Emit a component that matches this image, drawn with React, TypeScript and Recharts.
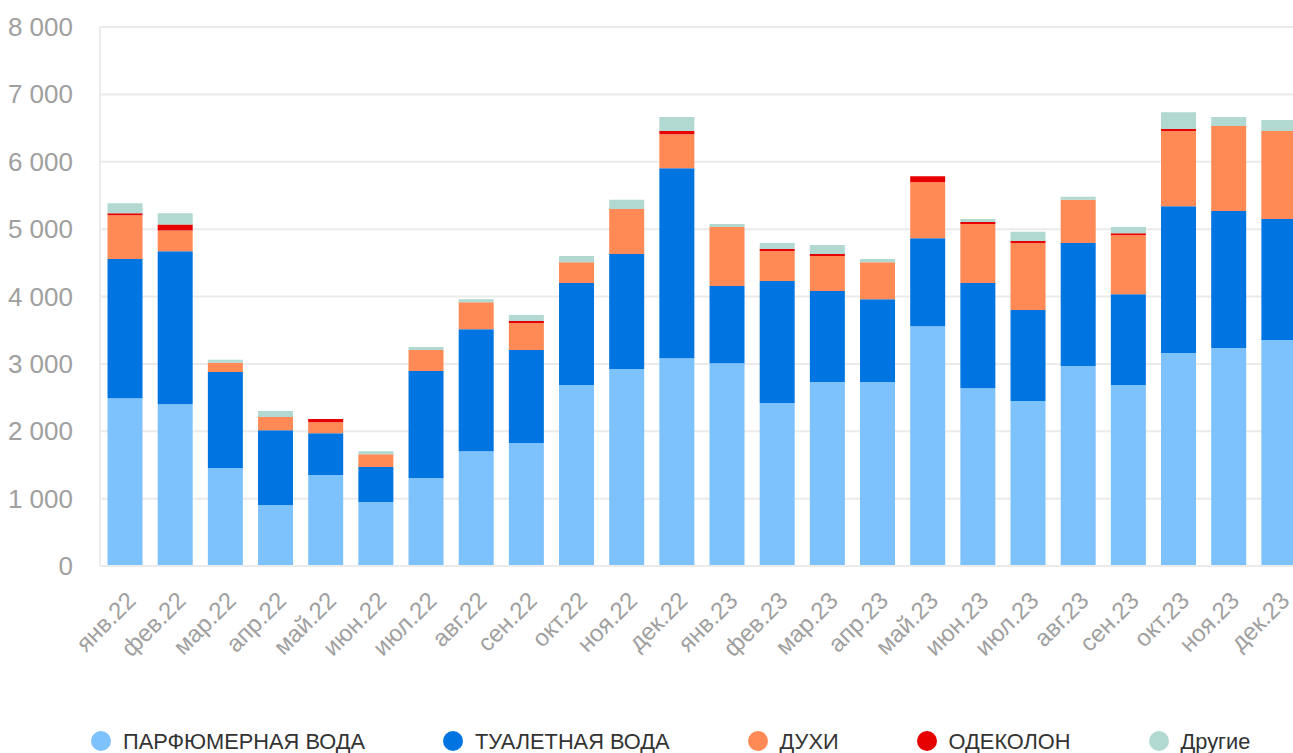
import React from 'react';
import { BarChart, Bar, XAxis, YAxis, CartesianGrid, Legend } from 'recharts';

// Monthly sales by fragrance type, 2022–2023
const months = [
  'янв.22', 'фев.22', 'мар.22', 'апр.22', 'май.22', 'июн.22',
  'июл.22', 'авг.22', 'сен.22', 'окт.22', 'ноя.22', 'дек.22',
  'янв.23', 'фев.23', 'мар.23', 'апр.23', 'май.23', 'июн.23',
  'июл.23', 'авг.23', 'сен.23', 'окт.23', 'ноя.23', 'дек.23',
];

const parfumWater = [2490, 2400, 1455, 905, 1350, 950, 1305, 1705, 1825, 2685, 2925, 3085, 3010, 2420, 2730, 2730, 3560, 2640, 2450, 2970, 2685, 3160, 3235, 3355];
const toiletWater = [2065, 2270, 1425, 1110, 620, 520, 1590, 1810, 1380, 1515, 1705, 2820, 1145, 1810, 1350, 1230, 1305, 1560, 1350, 1825, 1350, 2180, 2035, 1795];
const perfume = [650, 310, 135, 195, 165, 190, 310, 400, 400, 310, 670, 505, 875, 445, 520, 550, 830, 875, 995, 640, 875, 1115, 1260, 1305];
const cologne = [30, 90, 0, 0, 45, 0, 0, 0, 30, 0, 0, 45, 0, 30, 30, 0, 90, 30, 30, 0, 30, 30, 0, 0];
const others = [150, 165, 45, 90, 0, 45, 45, 45, 90, 90, 135, 210, 45, 90, 135, 45, 0, 45, 135, 45, 90, 250, 135, 165];

const yTicks = [0, 1000, 2000, 3000, 4000, 5000, 6000, 7000, 8000];

const series = [
  { key: 'parfum', name: 'ПАРФЮМЕРНАЯ ВОДА', color: '#7DC2FC', values: parfumWater },
  { key: 'toilet', name: 'ТУАЛЕТНАЯ ВОДА', color: '#0074E0', values: toiletWater },
  { key: 'perfume', name: 'ДУХИ', color: '#FF8A56', values: perfume },
  { key: 'cologne', name: 'ОДЕКОЛОН', color: '#E60000', values: cologne },
  { key: 'others', name: 'Другие', color: '#B1D9D1', values: others },
];

const data = months.map((m, i) => {
  const row: Record<string, string | number> = { month: m };
  series.forEach((s) => {
    row[s.key] = s.values[i];
  });
  return row;
});

const FONT = '"Liberation Sans", Arial, Helvetica, sans-serif';
const TICK_COLOR = '#A0A0A0';
const GRID_COLOR = '#EBEBEB';

const formatThousands = (v: number) =>
  String(v).replace(/\B(?=(\d{3})+(?!\d))/g, ' ');

const MonthTick = (props: any) => {
  const { x, y, payload } = props;
  const tx = x + 12;
  const ty = y + 36;
  return (
    <text
      x={tx}
      y={ty}
      transform={`rotate(-45, ${tx}, ${ty})`}
      textAnchor="end"
      fill={TICK_COLOR}
      fontSize={24}
      fontFamily={FONT}
    >
      {payload.value}
    </text>
  );
};

const ValueTick = (props: any) => {
  const { x, y, payload } = props;
  return (
    <text
      x={x}
      y={y}
      dy={9}
      textAnchor="end"
      fill={TICK_COLOR}
      fontSize={26}
      fontFamily={FONT}
    >
      {formatThousands(payload.value)}
    </text>
  );
};

const LegendContent = () => (
  <div
    style={{
      display: 'flex',
      alignItems: 'flex-start',
      paddingLeft: 91,
      height: 41,
      fontFamily: FONT,
    }}
  >
    {series.map((s, i) => (
      <div
        key={s.key}
        style={{
          display: 'flex',
          alignItems: 'flex-start',
          marginLeft: i === 0 ? 0 : 78,
          whiteSpace: 'nowrap',
        }}
      >
        <span
          style={{
            display: 'inline-block',
            width: 20,
            height: 20,
            borderRadius: '50%',
            background: s.color,
            marginTop: 2,
          }}
        />
        <span
          style={{
            marginLeft: 12,
            fontSize: 21.8,
            lineHeight: '24px',
            marginTop: 1,
            color: '#333333',
          }}
        >
          {s.name}
        </span>
      </div>
    ))}
  </div>
);

export default function App() {
  return (
    <div
      style={{
        position: 'fixed',
        top: 0,
        left: 0,
        width: 1293,
        height: 753,
        overflow: 'hidden',
        background: '#ffffff',
      }}
    >
      <BarChart
        width={1310}
        height={770}
        data={data}
        margin={{ top: 27, right: 6, bottom: 0, left: 0 }}
        barCategoryGap="15%"
      >
        <CartesianGrid
          vertical={false}
          stroke={GRID_COLOR}
          strokeWidth={2}
        />
        <XAxis
          dataKey="month"
          interval={0}
          height={163}
          tickLine={false}
          tickSize={0}
          tickMargin={0}
          axisLine={{ stroke: GRID_COLOR, strokeWidth: 2 }}
          tick={<MonthTick />}
        />
        <YAxis
          width={100}
          domain={[0, 8000]}
          ticks={yTicks}
          interval={0}
          tickLine={false}
          tickSize={0}
          tickMargin={27}
          axisLine={{ stroke: GRID_COLOR, strokeWidth: 2 }}
          tick={<ValueTick />}
        />
        {series.map((s) => (
          <Bar
            key={s.key}
            dataKey={s.key}
            name={s.name}
            stackId="total"
            fill={s.color}
            isAnimationActive={false}
          />
        ))}
        <Legend
          verticalAlign="bottom"
          wrapperStyle={{ left: 0, width: 1310 }}
          content={<LegendContent />}
        />
      </BarChart>
    </div>
  );
}
